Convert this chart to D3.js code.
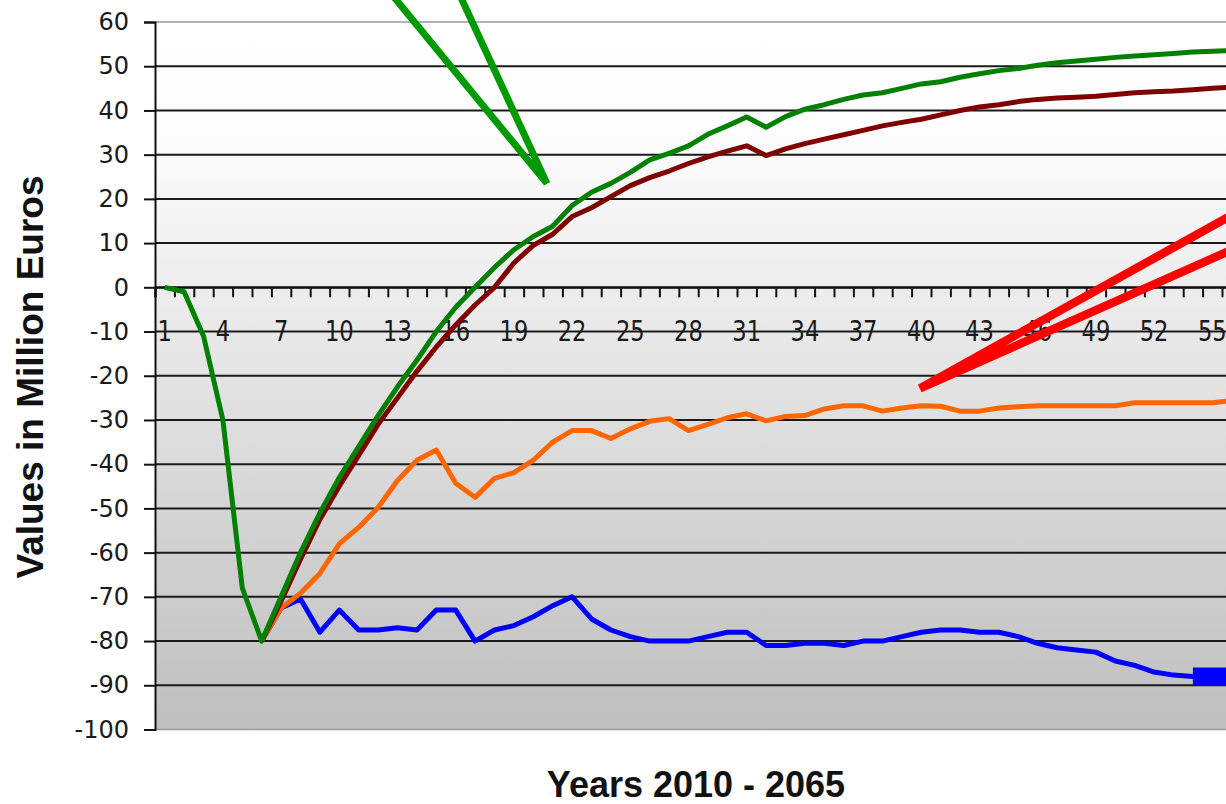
<!DOCTYPE html>
<html>
<head>
<meta charset="utf-8">
<script src="https://cdn.jsdelivr.net/npm/d3@7"></script>
<style>
  html, body { margin: 0; padding: 0; background: #ffffff; overflow: hidden; }
  svg { display: block; }
</style>
</head>
<body>
<svg id="chart" width="1226" height="804"></svg>
<script>
// ---------- DATA ----------
const categories = d3.range(1, 57); // years 2010 - 2065 as 1..56

const greenSeries = [0, -1, -11, -30, -68, -80, -70, -60, -51, -43, -36, -29, -22.5, -16.5, -10, -4.5,
  0, 4.5, 8.5, 11.5, 13.8, 18.5, 21.5, 23.5, 26, 28.8, 30.3, 32, 34.6, 36.5, 38.5, 36.2,
  38.6, 40.3, 41.3, 42.5, 43.5, 44, 45, 46, 46.5, 47.5, 48.3, 49, 49.5, 50.2, 50.8, 51.2,
  51.6, 52, 52.3, 52.6, 52.9, 53.2, 53.4, 53.5];

const darkRedSeries = [null, null, null, null, null, -80, -71, -61.5, -52.5, -45, -38, -31, -25, -19, -13.5, -8.5,
  -4, 0, 5.5, 9.5, 12, 16, 18, 20.5, 23, 24.8, 26.3, 28, 29.5, 30.8, 32, 29.8,
  31.3, 32.5, 33.5, 34.5, 35.5, 36.5, 37.3, 38, 39, 40, 40.8, 41.3, 42, 42.5, 42.8, 43,
  43.2, 43.6, 44, 44.2, 44.4, 44.7, 45, 45.3];

const orangeSeries = [null, null, null, null, null, -80, -72.5, -69.2, -64.7, -58, -54.3, -49.8, -43.7, -39.1, -36.8, -44.3,
  -47.5, -43.2, -41.9, -39.1, -35, -32.4, -32.4, -34.2, -32, -30.3, -29.7, -32.4, -31, -29.5, -28.6, -30.2,
  -29.2, -29, -27.5, -26.8, -26.8, -28, -27.3, -26.8, -26.9, -28, -28, -27.3, -27, -26.8, -26.8, -26.8,
  -26.8, -26.8, -26.1, -26.1, -26.1, -26.1, -26.1, -25.6];

const blueSeries = [null, null, null, null, null, -80, -72.5, -70.5, -78, -73, -77.5, -77.5, -77, -77.5, -73, -73,
  -80, -77.5, -76.5, -74.5, -72, -70, -75, -77.5, -79, -80, -80, -80, -79, -78, -78, -81,
  -81, -80.5, -80.5, -81, -80, -80, -79, -78, -77.5, -77.5, -78, -78, -79, -80.5, -81.5, -82,
  -82.5, -84.5, -85.5, -87, -87.7, -88, -88, -88];

const yTickValues = [-100, -90, -80, -70, -60, -50, -40, -30, -20, -10, 0, 10, 20, 30, 40, 50, 60];
const xTickLabels = [1, 4, 7, 10, 13, 16, 19, 22, 25, 28, 31, 34, 37, 40, 43, 46, 49, 52, 55];

// callout pointers (category, value)
const greenCallout = [[12.0, 70], [20.7, 23.5], [15.8, 70]];
const redCallout = [[56.94, 18.6], [39.93, -22.85], [56.94, 10.3]];

// ---------- SCALES ----------
const left = 155, step = 19.4;
const x = d3.scaleLinear().domain([0.5, 56.5]).range([left, left + 56 * step]);
const y = d3.scaleLinear().domain([-100, 60]).range([729.5, 22]);
const plotRight = x(56.5);

const svg = d3.select("#chart");

// gradient background
const defs = svg.append("defs");
const grad = defs.append("linearGradient").attr("id", "bg").attr("x1", 0).attr("y1", 0).attr("x2", 0).attr("y2", 1);
[["0%", "#ffffff"], ["15%", "#fdfdfd"], ["40%", "#ebebeb"], ["70%", "#d4d4d4"], ["100%", "#bfbfbf"]]
  .forEach(([o, c]) => grad.append("stop").attr("offset", o).attr("stop-color", c));

svg.append("rect")
  .attr("x", left).attr("y", y(60))
  .attr("width", plotRight - left).attr("height", y(-100) - y(60))
  .attr("fill", "url(#bg)");

// gridlines
svg.append("g").selectAll("line").data(yTickValues).join("line")
  .attr("x1", left).attr("x2", plotRight)
  .attr("y1", d => y(d)).attr("y2", d => y(d))
  .attr("stroke", d => (d === 60 || d === -100) ? "#9a9a9a" : "#1a1a1a")
  .attr("stroke-width", d => (d === 60 || d === -100) ? 1.5 : 2);

// y axis
const yAxis = d3.axisLeft(y).tickValues(yTickValues).tickSize(11).tickPadding(15)
  .tickFormat(d => String(d));
const gy = svg.append("g").attr("transform", `translate(${left},0)`).call(yAxis);
gy.select(".domain").attr("stroke", "#111").attr("stroke-width", 2);
gy.selectAll(".tick line").attr("stroke", "#111").attr("stroke-width", 2);
gy.selectAll(".tick text")
  .attr("font-family", "'DejaVu Sans', Verdana, sans-serif")
  .attr("font-size", 24).attr("fill", "#1a1a1a");

// x axis at zero: tick marks at category boundaries
const xAxis = d3.axisBottom(x).tickValues(d3.range(0.5, 57, 1)).tickSize(10).tickFormat("");
const gx = svg.append("g").attr("transform", `translate(0,${y(0)})`).call(xAxis);
gx.select(".domain").attr("stroke", "#111").attr("stroke-width", 2);
gx.selectAll(".tick line").attr("stroke", "#111").attr("stroke-width", 2);

// x category labels
svg.append("g").selectAll("text").data(xTickLabels).join("text")
  .attr("transform", d => `translate(${x(d)},${y(0) + 44}) scale(0.78,1)`)
  .attr("text-anchor", "middle").attr("dominant-baseline", "central")
  .attr("font-family", "'DejaVu Sans', Verdana, sans-serif")
  .attr("font-size", 29).attr("fill", "#1a1a1a")
  .text(d => d);

// series
const line = d3.line().defined(d => d[1] != null).x(d => x(d[0])).y(d => y(d[1]));
const series = [
  { values: blueSeries, color: "#0000ff" },
  { values: orangeSeries, color: "#ff6600" },
  { values: darkRedSeries, color: "#800000" },
  { values: greenSeries, color: "#008000" }
];
series.forEach(s => {
  svg.append("path")
    .datum(categories.map((c, i) => [c, s.values[i]]))
    .attr("d", line)
    .attr("fill", "none").attr("stroke", s.color)
    .attr("stroke-width", 5).attr("stroke-linejoin", "round");
});
// thick blue stub at the end of the blue series
svg.append("path")
  .datum(categories.map((c, i) => [c, blueSeries[i]]).slice(53))
  .attr("d", line).attr("fill", "none").attr("stroke", "#0000ff").attr("stroke-width", 18);

// callout pointers
const cLine = d3.line().x(d => x(d[0])).y(d => y(d[1]));
svg.append("path").datum(greenCallout).attr("d", cLine)
  .attr("fill", "none").attr("stroke", "#009900").attr("stroke-width", 7).attr("stroke-linejoin", "bevel");
svg.append("path").datum(redCallout).attr("d", cLine)
  .attr("fill", "none").attr("stroke", "#ff0000").attr("stroke-width", 8.5).attr("stroke-linejoin", "bevel");

// axis titles
svg.append("text")
  .attr("transform", "translate(43,377) rotate(-90)")
  .attr("text-anchor", "middle")
  .attr("font-family", "'Liberation Sans', Arial, sans-serif")
  .attr("font-weight", "bold").attr("font-size", 37).attr("fill", "#111")
  .text("Values in Million Euros");

svg.append("text")
  .attr("x", 696).attr("y", 797)
  .attr("text-anchor", "middle")
  .attr("font-family", "'Liberation Sans', Arial, sans-serif")
  .attr("font-weight", "bold").attr("font-size", 36).attr("fill", "#111")
  .text("Years 2010 - 2065");
</script>
</body>
</html>
